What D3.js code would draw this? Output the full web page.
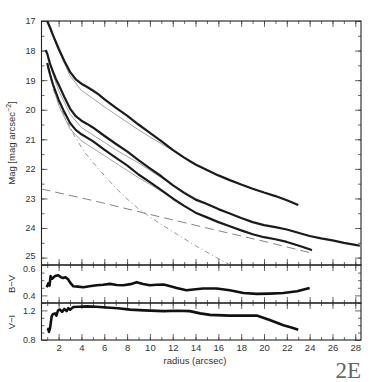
<!DOCTYPE html>
<html>
<head>
<meta charset="utf-8">
<script src="https://cdn.jsdelivr.net/npm/d3@7"></script>
<style>
  body { margin: 0; background: #fff; }
  svg text { font-family: "Liberation Sans", Arial, sans-serif; fill: #333; }
</style>
</head>
<body>
<div id="chart"></div>
<script>
'use strict';

/*** Data (radius in arcsec, surface brightness in mag/arcsec^2) */
const profileI = [[1.0,17.0],[1.25,17.22],[1.5,17.47],[1.75,17.7],[2.0,17.93],[2.5,18.35],[3.0,18.72],[3.5,18.97],
  [4.0,19.12],[4.5,19.23],[5.0,19.35],[5.5,19.48],[6.0,19.64],[7.0,19.93],[8.0,20.2],[9.0,20.5],[10.0,20.78],
  [11.0,21.06],[12.0,21.36],[13.0,21.62],[14.0,21.85],[15.0,22.04],[16.0,22.22],[17.0,22.38],[18.0,22.53],
  [19.0,22.67],[20.0,22.8],[21.0,22.92],[22.0,23.06],[23.0,23.22]];

const profileV = [[0.85,17.98],[1.0,18.1],[1.25,18.45],[1.5,18.7],[1.75,18.95],[2.0,19.15],[2.5,19.57],[3.0,19.96],
  [3.5,20.22],[4.0,20.37],[4.5,20.48],[5.0,20.6],[6.0,20.88],[7.0,21.15],[8.0,21.41],[9.0,21.7],[10.0,21.98],
  [11.0,22.25],[12.0,22.55],[13.0,22.81],[14.0,23.04],[15.0,23.19],[16.0,23.36],[17.0,23.51],[18.0,23.66],
  [19.0,23.8],[20.0,23.9],[21.0,23.97],[22.0,24.05],[23.0,24.16],[24.0,24.27],[25.0,24.35],[26.0,24.42],
  [27.0,24.5],[28.0,24.57],[28.4,24.6]];

const profileB = [[1.0,18.42],[1.25,18.8],[1.5,19.14],[2.0,19.66],[2.5,20.08],[3.0,20.45],[3.5,20.68],[4.0,20.83],
  [5.0,21.06],[6.0,21.35],[7.0,21.62],[8.0,21.88],[9.0,22.19],[10.0,22.45],[11.0,22.72],[12.0,23.0],[13.0,23.25],
  [14.0,23.48],[15.0,23.64],[16.0,23.8],[17.0,23.94],[18.0,24.08],[19.0,24.21],[20.0,24.31],[21.0,24.38],
  [22.0,24.47],[23.0,24.59],[24.0,24.72],[24.2,24.75]];

/* thin grey model fits */
const modelI = [[1.0,17.05],[2.0,18.0],[3.0,18.85],[4.0,19.35],[5.0,19.62],[6.0,19.9],[7.0,20.16],[8.0,20.42],
  [9.0,20.68],[10.0,20.92],[11.0,21.15],[12.0,21.38],[14.0,21.85],[16.0,22.22],[18.0,22.53],[20.0,22.8],[22.0,23.06],[23.0,23.22]];
const modelV = [[1.0,18.15],[1.5,18.8],[2.0,19.35],[3.0,20.15],[4.0,20.6],[5.0,20.85],[6.0,21.1],[7.0,21.35],
  [8.0,21.58],[9.0,21.8],[10.0,22.05],[12.0,22.55],[14.0,23.0],[16.0,23.36],[18.0,23.66],[20.0,23.9],[22.0,24.05],
  [24.0,24.27],[26.0,24.42],[28.0,24.57]];
const modelB = [[1.0,18.55],[2.0,19.85],[3.0,20.65],[4.0,21.05],[5.0,21.3],[6.0,21.55],[7.0,21.8],[8.0,22.05],
  [9.0,22.3],[10.0,22.52],[12.0,23.0],[14.0,23.48],[16.0,23.8],[18.0,24.08],[20.0,24.31],[22.0,24.47],[24.0,24.72]];

/* decomposition: bulge (dash-dot) and disk (long dash) */
const bulge = [[1.5,19.3],[2.0,19.75],[2.5,20.2],[3.4,20.9],[4.3,21.45],[5.45,21.98],[6.3,22.35],[7.2,22.72],
  [8.1,23.05],[9.0,23.35],[10.6,23.78],[12.0,24.12],[14.0,24.6],[15.85,25.0],[16.9,25.22]];
const disk = [[0.5,22.68],[5.0,23.07],[10.0,23.54],[15.0,24.0],[20.0,24.45],[24.2,24.85]];

/* colour profiles */
const colorBV = [[0.96,0.454],[1.1,0.48],[1.2,0.465],[1.3,0.527],[1.45,0.51],[1.68,0.527],[1.97,0.533],[2.2,0.52],
  [2.4,0.515],[2.6,0.52],[2.85,0.504],[3.05,0.48],[3.29,0.46],[3.7,0.458],[4.17,0.454],[4.7,0.46],[5.34,0.467],
  [5.9,0.47],[6.5,0.476],[7.1,0.468],[7.67,0.467],[8.3,0.474],[8.84,0.487],[9.4,0.475],[10.0,0.467],[10.6,0.47],
  [11.2,0.471],[11.8,0.46],[12.35,0.449],[13.2,0.434],[14.0,0.44],[14.68,0.445],[15.85,0.445],[17.0,0.434],
  [18.2,0.416],[19.36,0.41],[20.5,0.412],[21.7,0.416],[22.9,0.427],[24.0,0.449]];

const colorVI = [[1.05,0.93],[1.1,0.95],[1.15,0.91],[1.25,0.96],[1.39,1.12],[1.5,1.15],[1.68,1.16],[1.8,1.13],
  [1.95,1.2],[2.12,1.21],[2.3,1.18],[2.5,1.22],[2.7,1.19],[2.85,1.23],[3.0,1.21],[3.29,1.245],[3.8,1.25],
  [4.46,1.255],[5.3,1.25],[6.2,1.24],[7.2,1.23],[8.26,1.21],[9.5,1.2],[11.2,1.19],[12.4,1.195],[13.5,1.19],
  [14.4,1.16],[15.27,1.14],[17.0,1.13],[18.5,1.13],[19.36,1.13],[20.5,1.07],[21.7,1.0],[22.4,0.97],[23.0,0.94]];

/* tick values */
const xMajor = d3.range(2, 29, 2);
const xMinor = d3.range(1, 29, 1);
const magMajor = d3.range(17, 26, 1);
const magMinor = d3.range(17, 25.3, 0.5);
const bvMajor = [0.4, 0.6];
const bvMinor = [0.35, 0.45, 0.5, 0.55];
const viMajor = [0.8, 1.2];
const viMinor = [0.9, 1.0, 1.1, 1.3];

/*** Layout */
const W = 382, H = 382;
const left = 41.5, right = 361;
const mainTop = 21, mainBot = 265, bvBot = 303, viBot = 340;

const svg = d3.select("#chart").append("svg").attr("width", W).attr("height", H);

const x = d3.scaleLinear().domain([0.5, 28.5]).range([left, right]);
const yMag = d3.scaleLinear().domain([17, 25.25]).range([mainTop, mainBot]);
const yBV = d3.scaleLinear().domain([0.35, 0.6]).range([bvBot, mainBot]);
const yVI = d3.scaleLinear().domain([0.8, 1.3]).range([viBot, bvBot]);

/** Draws one panel frame with inward ticks on all four sides */
function panel(y, top, bot, yMaj, yMin, yFmt, showX) {
  const g = svg.append("g");
  const tick = (axis, tx, ty, vals, len, labels) => {
    const a = axis.tickValues(vals).tickSizeInner(-len).tickSizeOuter(0).tickPadding(3);
    if (!labels) a.tickFormat("");
    const sel = g.append("g").attr("transform", `translate(${tx},${ty})`).call(a);
    sel.select(".domain").remove();
    sel.selectAll("line").attr("stroke", "#444").attr("stroke-width", 0.8);
    return sel;
  };
  // x ticks, bottom and top
  const bx = tick(d3.axisBottom(x), 0, bot, xMajor, 6, showX);
  tick(d3.axisBottom(x), 0, bot, xMinor, 3, false);
  tick(d3.axisTop(x), 0, top, xMajor, 6, false);
  tick(d3.axisTop(x), 0, top, xMinor, 3, false);
  if (showX) bx.selectAll("text").attr("y", 4).attr("dy", "0.71em").attr("font-size", 9.5).attr("fill", "#333");
  // y ticks, left and right
  const ly = tick(d3.axisLeft(y), left, 0, yMaj, 6, true);
  ly.selectAll("text").text(yFmt).attr("font-size", 9).attr("x", -6).attr("fill", "#333");
  tick(d3.axisLeft(y), left, 0, yMin, 3, false);
  tick(d3.axisRight(y), right, 0, yMaj, 6, false);
  tick(d3.axisRight(y), right, 0, yMin, 3, false);
  g.append("rect").attr("x", left).attr("y", top).attr("width", right - left).attr("height", bot - top)
    .attr("fill", "none").attr("stroke", "#222").attr("stroke-width", 1.1);
  return ly;
}

const magAxis = panel(yMag, mainTop, mainBot, magMajor.filter(v => v <= 25), magMinor, d3.format("d"), false);
const bvAxis = panel(yBV, mainBot, bvBot, bvMajor, bvMinor, d3.format(".1f"), false);
panel(yVI, bvBot, viBot, viMajor, viMinor, d3.format(".1f"), true);

// nudge the two crowded labels at the main/B-V boundary apart
magAxis.selectAll(".tick").filter(d => d === 25).select("text").attr("dy", "0.05em");
bvAxis.selectAll(".tick").filter(d => d === 0.6).select("text").attr("dy", "0.75em");

/*** Curves */
const clip = (id, top, bot) => {
  svg.append("clipPath").attr("id", id).append("rect")
    .attr("x", left).attr("y", top).attr("width", right - left).attr("height", bot - top);
  return `url(#${id})`;
};
const cMain = clip("cMain", mainTop, mainBot);

const lineMag = d3.line().x(d => x(d[0])).y(d => yMag(d[1]));

const greys = svg.append("g").attr("clip-path", cMain).attr("fill", "none");
[modelI, modelV, modelB].forEach(m => {
  greys.append("path").attr("d", lineMag(m)).attr("stroke", "#9a9a9a").attr("stroke-width", 0.9);
});
greys.append("path").attr("d", lineMag(bulge)).attr("stroke", "#8a8a8a").attr("stroke-width", 0.9)
  .attr("stroke-dasharray", "5,3,1,3");
greys.append("path").attr("d", lineMag(disk)).attr("stroke", "#777").attr("stroke-width", 0.9)
  .attr("stroke-dasharray", "9,5");

const data = svg.append("g").attr("clip-path", cMain).attr("fill", "none");
[profileI, profileV, profileB].forEach(p => {
  data.append("path").attr("d", lineMag(p)).attr("stroke", "#1c1c1c").attr("stroke-width", 2.2)
    .attr("stroke-linejoin", "round");
});

svg.append("path").attr("fill", "none").attr("stroke", "#111").attr("stroke-width", 2.6)
  .attr("stroke-linejoin", "round")
  .attr("d", d3.line().x(d => x(d[0])).y(d => yBV(d[1]))(colorBV));
svg.append("path").attr("fill", "none").attr("stroke", "#111").attr("stroke-width", 2.6)
  .attr("stroke-linejoin", "round")
  .attr("d", d3.line().x(d => x(d[0])).y(d => yVI(d[1]))(colorVI));

/*** Axis titles */
const magLabel = svg.append("text").attr("transform", "translate(15,143) rotate(-90)")
  .attr("text-anchor", "middle").attr("font-size", 9.5);
magLabel.append("tspan").text("Mag [mag arcsec");
magLabel.append("tspan").attr("dy", -4).attr("font-size", 7).text("−2");
magLabel.append("tspan").attr("dy", 4).text("]");

svg.append("text").attr("transform", "translate(15,284) rotate(-90)")
  .attr("text-anchor", "middle").attr("font-size", 9.5).text("B−V");
svg.append("text").attr("transform", "translate(15,322) rotate(-90)")
  .attr("text-anchor", "middle").attr("font-size", 9.5).text("V−I");

svg.append("text").attr("x", 195).attr("y", 364).attr("text-anchor", "middle")
  .attr("font-size", 9.5).text("radius (arcsec)");

svg.append("text").attr("x", 361).attr("y", 378).attr("text-anchor", "end")
  .attr("font-size", 23).style("font-family", "'Liberation Serif', 'DejaVu Serif', serif")
  .style("fill", "#666").text("2E");
</script>
</body>
</html>
